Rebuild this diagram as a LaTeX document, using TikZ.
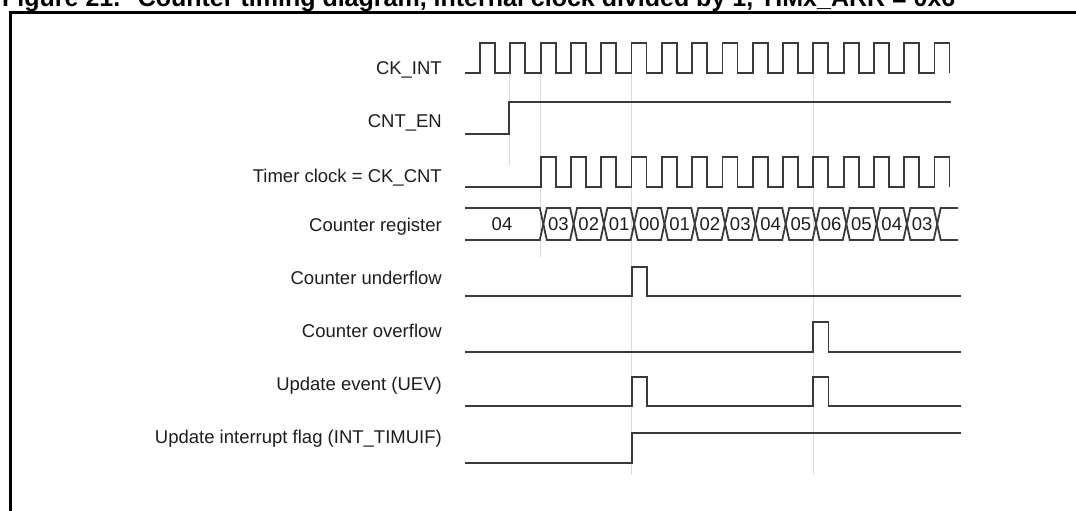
\documentclass[tikz,border=0pt]{standalone}
\usepackage{fontspec}
\setmainfont{Liberation Sans}
\definecolor{wavecol}{HTML}{3A3A3A}
\definecolor{textcol}{HTML}{1E1E1E}
\definecolor{guidecol}{HTML}{DADADA}
\begin{document}
\begin{tikzpicture}[x=1pt,y=-1pt,
  wave/.style={draw=wavecol, line width=1.8pt, line join=miter},
  guide/.style={draw=guidecol, line width=0.9pt},
  lbl/.style={anchor=base east, text=textcol, font=\fontsize{18.5}{20}\selectfont, inner sep=0pt},
  val/.style={text=textcol, font=\fontsize{18.5}{20}\selectfont, inner sep=0pt},
  frame/.style={draw=black, line width=3pt}]
\clip (0,0) rectangle (1076,511);
\fill[white] (0,0) rectangle (1076,511);
% title (cut at top)
\node[anchor=base west, inner sep=0pt, font=\fontsize{25}{27}\selectfont\bfseries] (title) at (2,7)
  {Figure 21.\hspace{0.7em}Counter timing diagram, internal clock divided by 1, TIMx\_ARR = 0x6};
\draw[frame] (10,530) -- (10,12.5) -- (1090,12.5);
% guide lines
\draw[guide] (509.3,73) -- (509.3,165);
\draw[guide] (540.6,73) -- (540.6,257);
\draw[guide] (631.7,73) -- (631.7,475);
\draw[guide] (813.3,73) -- (813.3,475);
% labels
\node[lbl] (lck) at (442,74.3) {CK\_INT};
\node[lbl] (len) at (442,127.7) {CNT\_EN};
\node[lbl] (ltc) at (442,182.3) {Timer clock = CK\_CNT};
\node[lbl] (lcr) at (442,231) {Counter register};
\node[lbl] (lun) at (442,284.3) {Counter underflow};
\node[lbl] (lov) at (442,337.5) {Counter overflow};
\node[lbl] (lue) at (442,390.5) {Update event (UEV)};
\node[lbl] (lif) at (442,443.5) {Update interrupt flag (INT\_TIMUIF)};
% CK_INT
\draw[wave] (465,73) foreach \k in {0,...,15} { -- ({480+30.3*\k},73) -- ({480+30.3*\k},43) -- ({495+30.3*\k},43) -- ({495+30.3*\k},73) };
% CNT_EN
\draw[wave] (465,134) -- (509.3,134) -- (509.3,102) -- (951,102);
% Timer clock
\draw[wave] (465,187) foreach \k in {2,...,15} { -- ({480+30.3*\k},187) -- ({480+30.3*\k},157) -- ({495+30.3*\k},157) -- ({495+30.3*\k},187) };
% Counter register bus
\draw[wave] (465,208) -- (539.8,208) -- (543.3,224) -- (539.8,240) -- (465,240);
\node[val] (v04) at (502,224) {04};
\foreach \k/\v in {0/03,1/02,2/01,3/00,4/01,5/02,6/03,7/04,8/05,9/06,10/05,11/04,12/03} {
  \draw[wave] ({543.3+30.3*\k},224) -- ({546.8+30.3*\k},208) -- ({570.1+30.3*\k},208) -- ({573.6+30.3*\k},224)
     -- ({570.1+30.3*\k},240) -- ({546.8+30.3*\k},240) -- cycle;
  \node[val] (val\k) at ({558.45+30.3*\k},224) {\v};
}
\draw[wave] (958,208) -- ({543.3+30.3*13+3.5},208) -- ({543.3+30.3*13},224) -- ({543.3+30.3*13+3.5},240) -- (958,240);
% Counter underflow
\draw[wave] (465,296) -- (631.7,296) -- (631.7,267) -- (647,267) -- (647,296) -- (961,296);
% Counter overflow
\draw[wave] (465,352) -- (813.3,352) -- (813.3,322) -- (828.5,322) -- (828.5,352) -- (961,352);
% Update event
\draw[wave] (465,406) -- (631.7,406) -- (631.7,377) -- (647,377) -- (647,406) -- (813.3,406) -- (813.3,377) -- (828.5,377) -- (828.5,406) -- (961,406);
% Update interrupt flag
\draw[wave] (465,463) -- (631.7,463) -- (631.7,433) -- (961,433);
\end{tikzpicture}
\end{document}
